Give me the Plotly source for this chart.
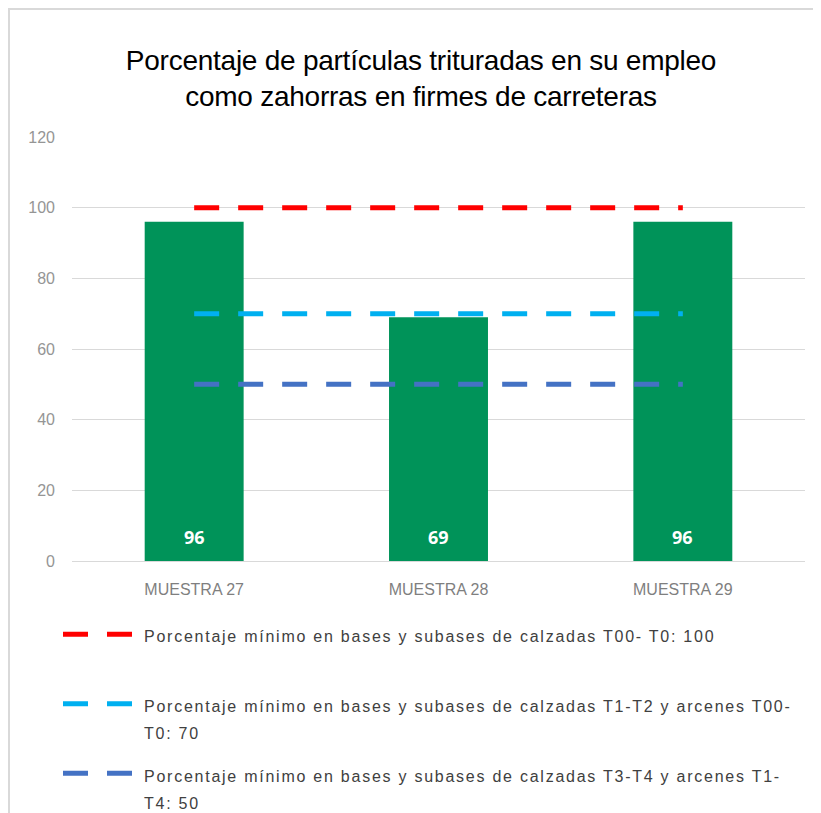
import plotly.graph_objects as go

categories = ["MUESTRA 27", "MUESTRA 28", "MUESTRA 29"]
values = [96, 69, 96]

limit_t00_t0 = [100, 100, 100]
limit_t1_t2 = [70, 70, 70]
limit_t3_t4 = [50, 50, 50]

legend_lines = [
    ["Porcentaje mínimo en bases y subases de calzadas T00- T0: 100", " "],
    ["Porcentaje mínimo en bases y subases de calzadas T1-T2 y arcenes T00-", "T0: 70"],
    ["Porcentaje mínimo en bases y subases de calzadas T3-T4 y arcenes T1-", "T4: 50"],
]
line_colors = ["#FF0000", "#00B0F0", "#4472C4"]

title_lines = ["Porcentaje de partículas trituradas en su empleo",
               "como zahorras en firmes de carreteras"]

# page has an 8px body margin; work in page coordinates and convert
OFF = 8
W, H = 813, 805
def fx(p):
    return p - OFF
def fy(p):
    return p - OFF

plot_left, plot_right, plot_top, plot_bottom = 72, 805, 137, 561
L = fx(plot_left)
R = W - fx(plot_right)
T = fy(plot_top)
B = H - fy(plot_bottom)


def legend_text(lines):
    sty = "font-size:16px;letter-spacing:1.75px"
    return "<br>".join(f"<span style='{sty}'>{ln}</span>" for ln in lines)


title_text = "<br>".join(
    f"<span style='letter-spacing:-0.25px'>{ln}</span>" for ln in title_lines)

fig = go.Figure()
fig.add_trace(go.Bar(
    x=categories, y=values, marker_color="#009359", marker_line_width=0,
    showlegend=False, width=0.405, hoverinfo="skip",
))
for i, (ys, lines, col) in enumerate(zip([limit_t00_t0, limit_t1_t2, limit_t3_t4],
                                          legend_lines, line_colors)):
    fig.add_trace(go.Scatter(
        x=categories, y=ys, mode="lines", name=legend_text(lines), legendgroup=f"g{i}",
        line=dict(color=col, width=5, dash="25px,19px"),
    ))

annotations = [
    dict(x=c, y=0, xref="x", yref="y", text=str(v), showarrow=False,
         yanchor="middle", yshift=24,
         font=dict(color="white", size=18, family="Open Sans", weight="bold"))
    for c, v in zip(categories, values)
]

pw = W - L - R
ph = H - T - B

fig.update_layout(
    width=W, height=H,
    margin=dict(l=L, r=R, t=T, b=B, pad=0, autoexpand=False),
    paper_bgcolor="white", plot_bgcolor="white",
    title=dict(text=title_text, x=(421 - OFF) / W, xanchor="center",
               y=1 - fy(70) / H, yanchor="top",
               font=dict(family="Liberation Sans", size=28, color="#000000")),
    xaxis=dict(showgrid=False, showline=True, linecolor="#d9d9d9", linewidth=1,
               tickfont=dict(family="Liberation Sans", size=16, color="#7f7f7f"),
               ticks="", ticklabelstandoff=14),
    yaxis=dict(range=[0, 120], dtick=20, showgrid=True, gridcolor="#d9d9d9", gridwidth=1,
               zeroline=False, showline=False, ticks="",
               tickfont=dict(family="Liberation Sans", size=16, color="#959595"),
               ticklabelstandoff=16),
    legend=dict(xref="container", yref="container",
                x=fx(58) / W, y=1 - fy(614) / H, xanchor="left", yanchor="top",
                traceorder="grouped", tracegroupgap=12, itemwidth=76, valign="top",
                font=dict(family="Liberation Sans", size=21, color="#404040"),
                bgcolor="rgba(0,0,0,0)"),
    showlegend=True,
    annotations=annotations,
    shapes=[dict(type="rect", xref="paper", yref="paper",
                 x0=(fx(9) - L) / pw, x1=(W + 20 - L) / pw,
                 y0=-(H + 20 - (T + ph)) / ph, y1=(T + ph - fy(9)) / ph,
                 line=dict(color="#d9d9d9", width=2), fillcolor="rgba(0,0,0,0)", layer="below")],
    bargap=0.59,
)
fig.write_html("out.html")
